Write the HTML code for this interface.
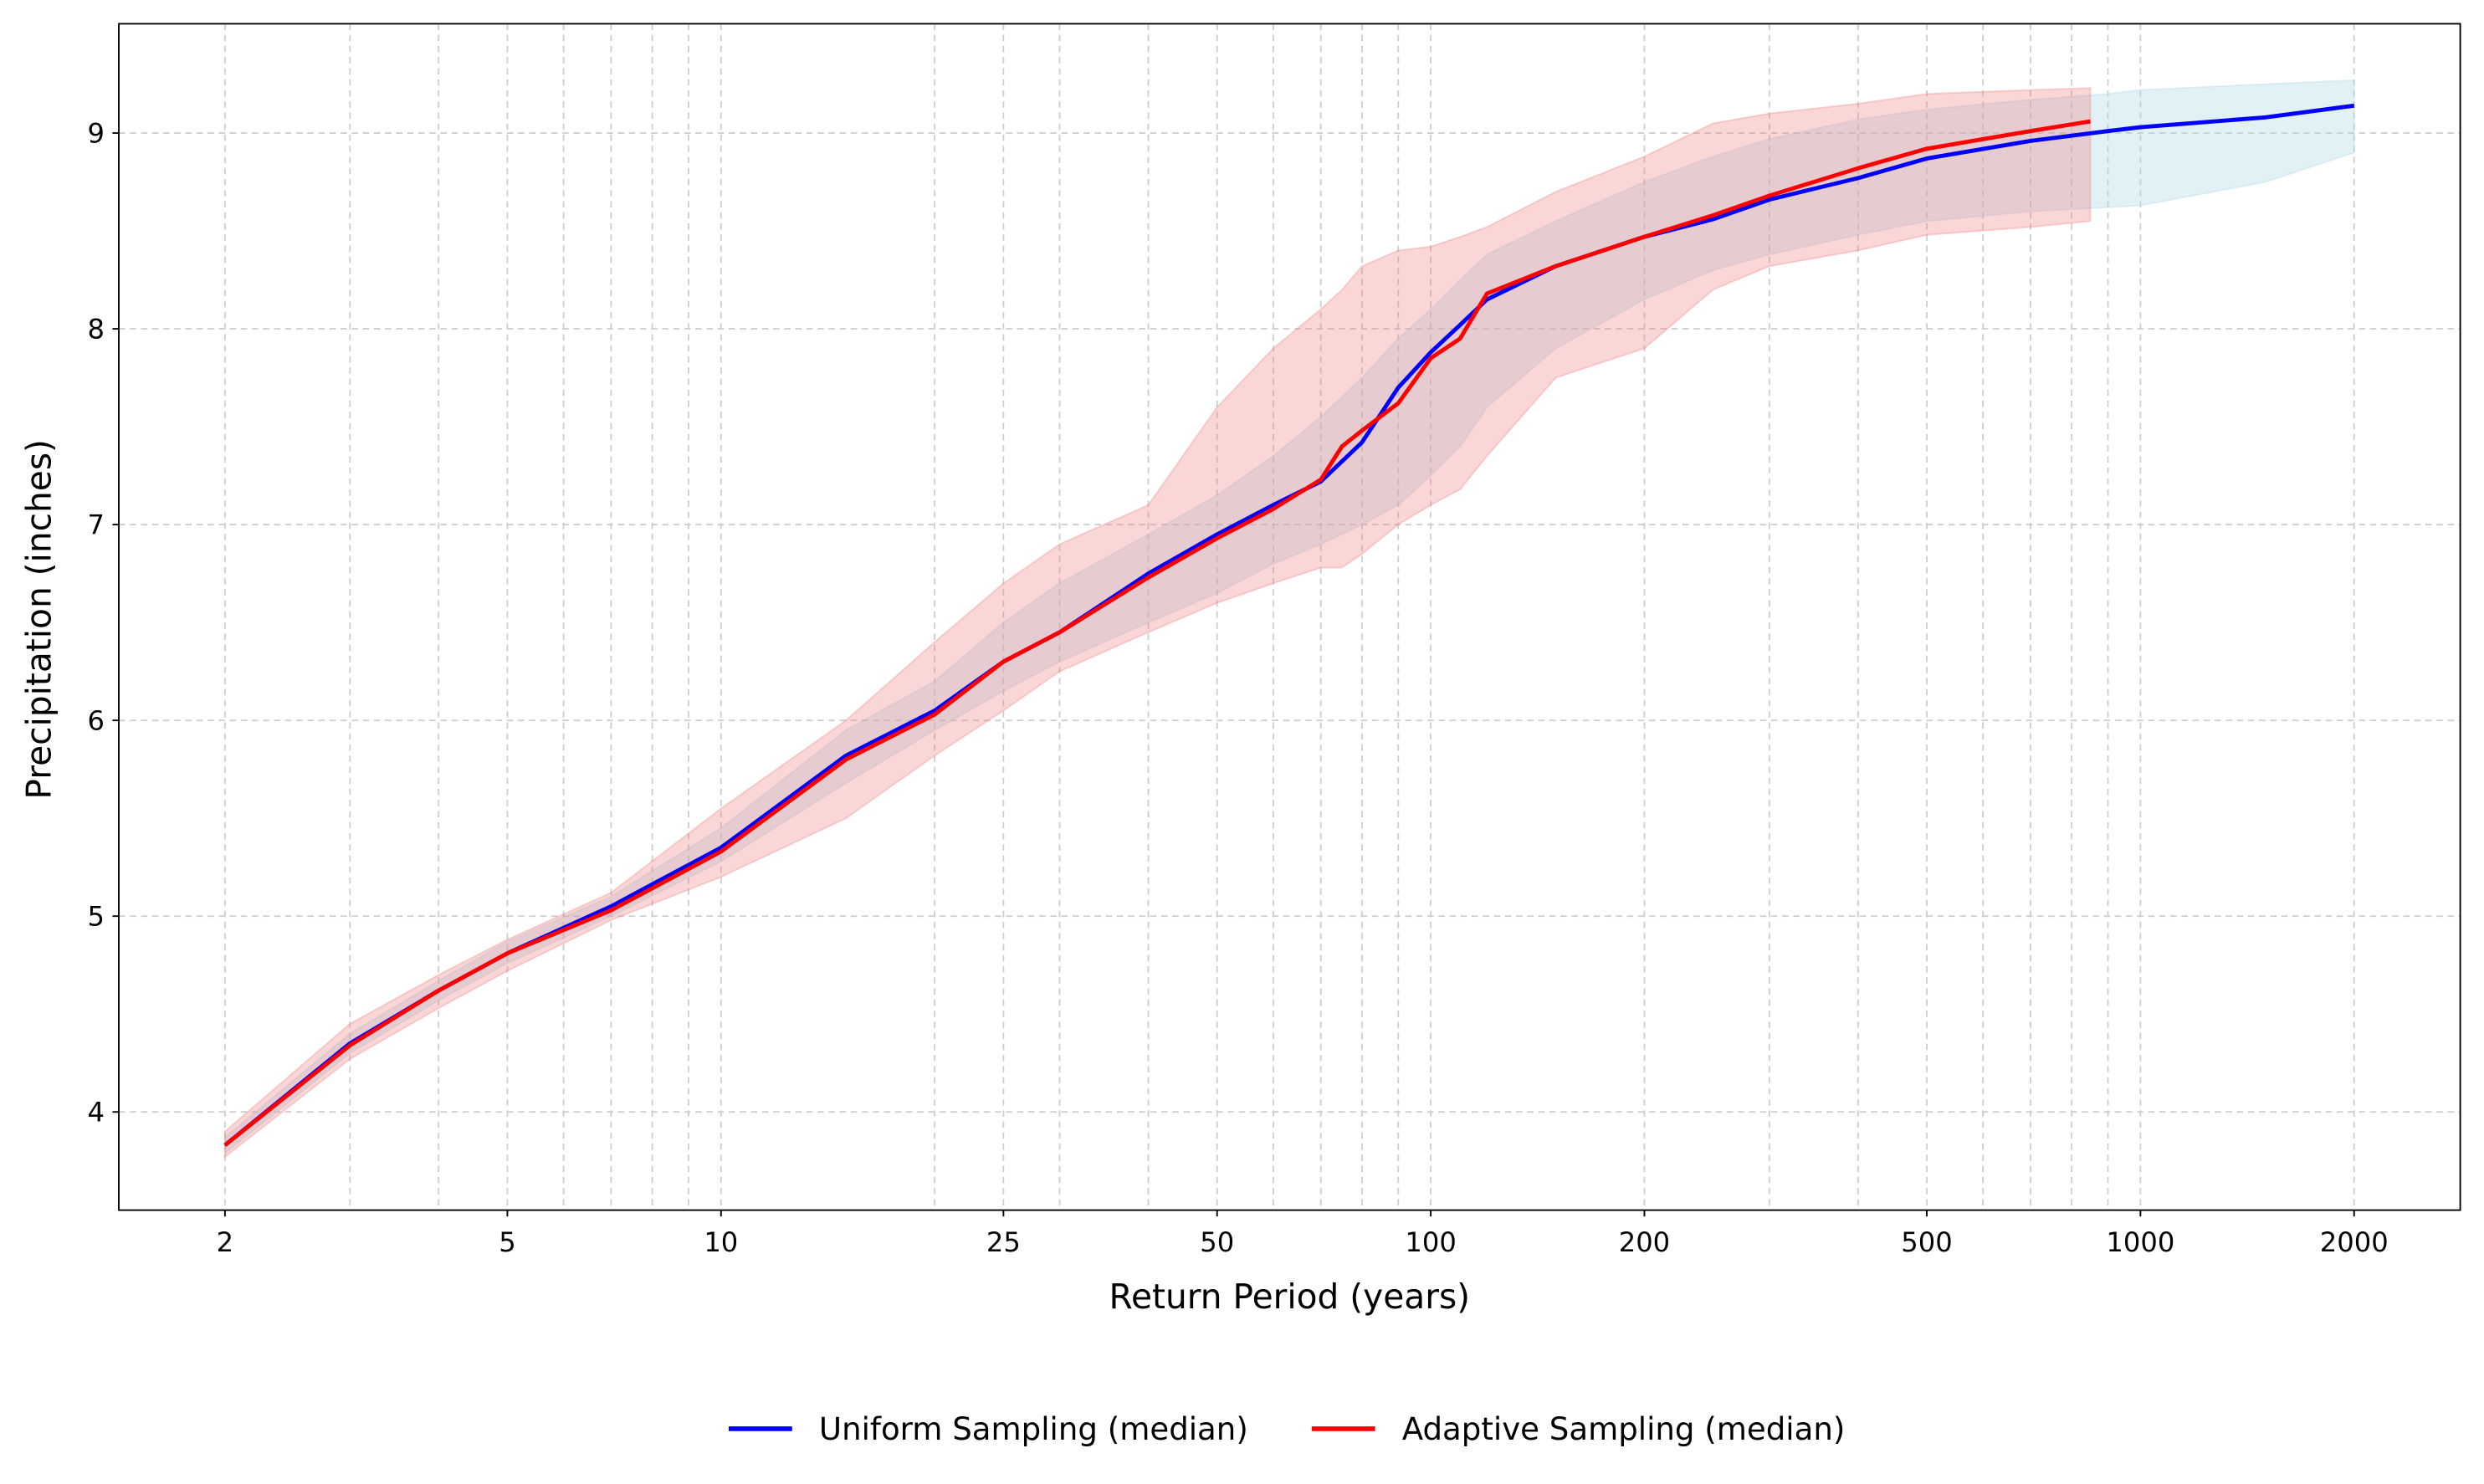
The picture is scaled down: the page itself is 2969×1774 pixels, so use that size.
<!DOCTYPE html>
<html><head><meta charset="utf-8"><style>
html,body{margin:0;padding:0;background:#fff}
svg{display:block;font-family:"DejaVu Sans","Liberation Sans",sans-serif}
</style></head><body>
<svg id="chart" width="2969" height="1774" viewBox="0 0 1568 936.9" preserveAspectRatio="none" xmlns="http://www.w3.org/2000/svg">
<g id="grid"></g>
<g id="bands"></g>
<g id="lines"></g>
<rect x="75" y="15" width="1478" height="749" fill="none" stroke="#000" stroke-width="1"/>
<g id="ticks"></g>
<text x="814" y="826" font-size="21.5" text-anchor="middle">Return Period (years)</text>
<text transform="translate(32,391) rotate(-90)" font-size="21.5" text-anchor="middle">Precipitation (inches)</text>
<g>
<line x1="460" y1="902" x2="500" y2="902" stroke="#0000ff" stroke-width="3"/>
<text x="517" y="909" font-size="19.6">Uniform Sampling (median)</text>
<line x1="828" y1="902" x2="868" y2="902" stroke="#ff0000" stroke-width="3"/>
<text x="885" y="909" font-size="19.6">Adaptive Sampling (median)</text>
</g>
</svg>
<script>
const uniT=[2,3,4,5,7,10,15,20,25,30,40,50,60,70,80,90,100,110,120,150,200,250,300,400,500,700,900,1000,1500,2000];
const uniMed=[3.83,4.35,4.62,4.81,5.05,5.35,5.82,6.05,6.3,6.45,6.75,6.95,7.1,7.22,7.42,7.7,7.88,8.02,8.15,8.32,8.47,8.56,8.66,8.77,8.87,8.96,9.01,9.03,9.08,9.14];
const uniLo=[3.79,4.3,4.57,4.76,5.0,5.28,5.68,5.95,6.15,6.3,6.5,6.65,6.8,6.9,7.0,7.1,7.25,7.4,7.6,7.9,8.15,8.3,8.38,8.48,8.55,8.6,8.62,8.63,8.75,8.9];
const uniHi=[3.87,4.4,4.67,4.87,5.1,5.45,5.95,6.2,6.5,6.7,6.95,7.15,7.35,7.55,7.75,7.95,8.1,8.25,8.38,8.55,8.75,8.88,8.97,9.07,9.12,9.17,9.2,9.22,9.25,9.27];
const adaT=[2,3,4,5,7,10,15,20,25,30,40,50,60,70,75,80,90,100,110,120,150,200,250,300,400,500,700,850];
const adaMed=[3.83,4.34,4.62,4.81,5.03,5.33,5.8,6.03,6.3,6.45,6.73,6.93,7.08,7.23,7.4,7.48,7.62,7.85,7.95,8.18,8.32,8.47,8.58,8.68,8.82,8.92,9.01,9.06];
const adaLo=[3.77,4.27,4.53,4.72,4.98,5.2,5.5,5.82,6.05,6.25,6.45,6.6,6.7,6.78,6.78,6.85,7.0,7.1,7.18,7.35,7.75,7.9,8.2,8.32,8.4,8.48,8.52,8.55];
const adaHi=[3.9,4.45,4.7,4.88,5.12,5.55,6.0,6.4,6.7,6.9,7.1,7.6,7.9,8.1,8.2,8.32,8.4,8.42,8.47,8.52,8.7,8.88,9.05,9.1,9.15,9.2,9.22,9.23];
const xTicks=[2,5,10,25,50,100,200,500,1000,2000];
const xMinor=[3,4,6,7,8,9,20,30,40,60,70,80,90,300,400,600,700,800,900];
const yTicks=[4,5,6,7,8,9];
const NS="http://www.w3.org/2000/svg";
function X(t){return 142+(Math.log10(t)-Math.log10(2))*448;}
function Y(v){return 702-(v-4)*123.6;}
function mk(tag,attrs,parent){const e=document.createElementNS(NS,tag);for(const k in attrs)e.setAttribute(k,attrs[k]);parent.appendChild(e);return e;}
const grid=document.getElementById('grid'),ticks=document.getElementById('ticks');
xMinor.forEach(t=>{const l=mk('line',{x1:X(t),x2:X(t),y1:15,y2:764,stroke:'#cfcfcf','stroke-width':1,'stroke-dasharray':'4,3'},grid);

});
xTicks.forEach(t=>{const l=mk('line',{x1:X(t),x2:X(t),y1:15,y2:764,stroke:'#cfcfcf','stroke-width':1,'stroke-dasharray':'4,3'},grid);


mk('line',{x1:X(t),x2:X(t),y1:764,y2:768,stroke:'#000'},ticks);
const tx=mk('text',{x:X(t),y:790,'font-size':17,'text-anchor':'middle'},ticks);tx.textContent=t;

});
yTicks.forEach(v=>{const l=mk('line',{x1:75,x2:1553,y1:Y(v),y2:Y(v),stroke:'#cfcfcf','stroke-width':1,'stroke-dasharray':'4,3'},grid);


mk('line',{x1:71,x2:75,y1:Y(v),y2:Y(v),stroke:'#000'},ticks);
const tx=mk('text',{x:66,y:Y(v)+6,'font-size':17,'text-anchor':'end'},ticks);tx.textContent=v;

});
function band(T,lo,hi,fill,op,name){let d='M'+T.map((t,i)=>X(t)+','+Y(hi[i])).join('L');
for(let i=T.length-1;i>=0;i--)d+='L'+X(T[i])+','+Y(lo[i]);d+='Z';
const p=mk('path',{d:d,fill:fill,'fill-opacity':op,stroke:fill,'stroke-opacity':op},document.getElementById('bands'));

}
function line(T,v,c,name){const p=mk('path',{d:'M'+T.map((t,i)=>X(t)+','+Y(v[i])).join('L'),fill:'none',stroke:c,'stroke-width':2.6,'stroke-linejoin':'round'},document.getElementById('lines'));

}
band(uniT,uniLo,uniHi,'#add8e6',0.35,'uniform-band');
band(adaT,adaLo,adaHi,'#f08080',0.32,'adaptive-band');
line(uniT,uniMed,'#0000ff','uniform-median-line');
line(adaT,adaMed,'#ff0000','adaptive-median-line');
</script>
</body></html>
